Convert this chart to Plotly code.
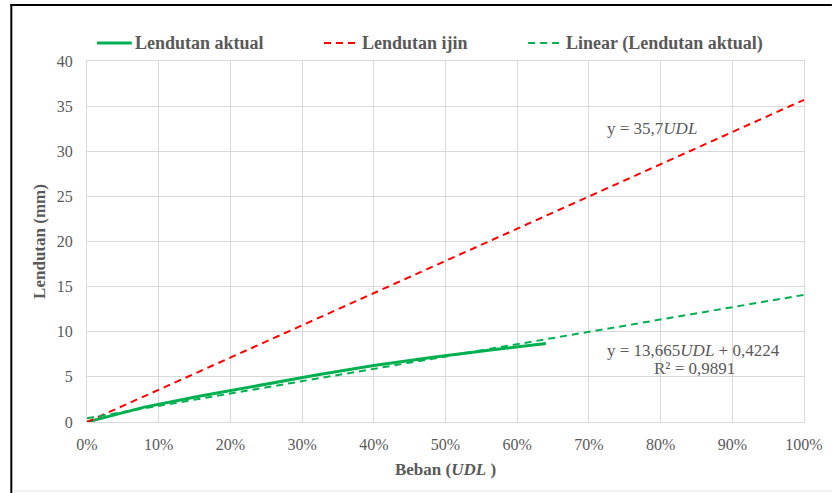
import plotly.graph_objects as go

# Data
beban_aktual = [0.0, 0.08, 0.16, 0.24, 0.32, 0.40, 0.48, 0.56, 0.64]
lendutan_aktual = [0.0, 1.65, 2.9, 4.05, 5.2, 6.25, 7.15, 7.95, 8.7]
beban_ijin = [0.0, 1.0]
lendutan_ijin = [0.0, 35.7]
beban_linear = [0.0, 1.0]
lendutan_linear = [0.4224, 14.0874]

x_ticks = [0, 0.1, 0.2, 0.3, 0.4, 0.5, 0.6, 0.7, 0.8, 0.9, 1.0]
x_ticklabels = ["0%", "10%", "20%", "30%", "40%", "50%", "60%", "70%", "80%", "90%", "100%"]
y_ticks = [0, 5, 10, 15, 20, 25, 30, 35, 40]
legend_names = ["Lendutan aktual", "Lendutan ijin", "Linear (Lendutan aktual)"]

FONT = "Liberation Serif"
GRAY = "#595959"
GREEN = "#00B050"
RED = "#FF0000"

fig = go.Figure()
fig.add_trace(go.Scatter(x=beban_aktual, y=lendutan_aktual, mode="lines",
                         name=legend_names[0], line=dict(color=GREEN, width=3)))
fig.add_trace(go.Scatter(x=beban_ijin, y=lendutan_ijin, mode="lines",
                         name=legend_names[1], line=dict(color=RED, width=2, dash="7px,5px")))
fig.add_trace(go.Scatter(x=beban_linear, y=lendutan_linear, mode="lines",
                         name=legend_names[2], line=dict(color=GREEN, width=2, dash="7px,5px")))

W, H = 835, 493
L, R, T, B = 87, 28, 61, 71
pw, ph = W - L - R, H - T - B

def px(xp):
    return (xp - L) / pw

def py(yp):
    return (H - B - yp) / ph

fig.update_layout(
    width=W, height=H,
    margin=dict(l=L, r=R, t=T, b=B, pad=0),
    paper_bgcolor="white", plot_bgcolor="white",
    font=dict(family=FONT, size=16, color=GRAY),
    showlegend=False,
    xaxis=dict(range=[0, 1], tickvals=x_ticks, ticktext=x_ticklabels,
               showgrid=True, gridcolor="#d9d9d9", gridwidth=1,
               zeroline=False, showline=True, linecolor="#d9d9d9", linewidth=1, mirror=True,
               ticks="", ticklabelstandoff=8, tickfont=dict(family=FONT, size=16, color=GRAY),
               title=dict(text="<b>Beban (<i>UDL</i> )</b>", font=dict(family=FONT, size=17, color=GRAY),
                          standoff=10)),
    yaxis=dict(range=[0, 40], tickvals=y_ticks,
               showgrid=True, gridcolor="#d9d9d9", gridwidth=1,
               zeroline=False, showline=True, linecolor="#d9d9d9", linewidth=1, mirror=True,
               ticks="", ticklabelstandoff=10, tickfont=dict(family=FONT, size=16, color=GRAY),
               title=dict(text="<b>Lendutan (mm)</b>", font=dict(family=FONT, size=17, color=GRAY),
                          standoff=6)),
)

# manual legend (line samples + labels)
leg_items = [
    (97, 132, GREEN, 3, "solid"),
    (325, 360, RED, 2, "7px,5px"),
    (530, 565, GREEN, 2, "7px,5px"),
]
for (x0, x1, col, w, dash), name in zip(leg_items, legend_names):
    fig.add_shape(type="line", xref="paper", yref="paper", x0=px(x0), x1=px(x1),
                  y0=py(43), y1=py(43), line=dict(color=col, width=w, dash=dash))
    fig.add_annotation(text="<b>" + name + "</b>", xref="paper", yref="paper",
                       x=px(x1 + 1), y=py(43), xanchor="left", yanchor="middle",
                       showarrow=False, font=dict(family=FONT, size=18, color=GRAY))

fig.add_annotation(text="y = 35,7<i>UDL</i>", xref="paper", yref="paper",
                   x=px(607), y=py(128), xanchor="left", yanchor="middle",
                   showarrow=False, font=dict(family=FONT, size=17, color=GRAY))
fig.add_annotation(text="y = 13,665<i>UDL</i> + 0,4224", xref="paper", yref="paper",
                   x=px(607), y=py(350), xanchor="left", yanchor="middle",
                   showarrow=False, font=dict(family=FONT, size=17, color=GRAY))
fig.add_annotation(text="R² = 0,9891", xref="paper", yref="paper",
                   x=px(654), y=py(368), xanchor="left", yanchor="middle",
                   showarrow=False, font=dict(family=FONT, size=17, color=GRAY))

# outer chart frame (black, top and left visible)
fig.add_shape(type="line", xref="paper", yref="paper", x0=px(10), x1=px(835), y0=py(5), y1=py(5),
              line=dict(color="black", width=2))
fig.add_shape(type="line", xref="paper", yref="paper", x0=px(11), x1=px(11), y0=py(4), y1=py(493),
              line=dict(color="black", width=2))
fig.add_shape(type="line", xref="paper", yref="paper", x0=px(12), x1=px(835), y0=py(491), y1=py(491),
              line=dict(color="#e6e6e6", width=1))

fig.write_html("out.html", config={"displayModeBar": False},
               post_script="document.body.style.margin='0';")
with open("out.html", "r", encoding="utf-8") as f:
    html = f.read()
html = html.replace("<head>", "<head><style>html,body{margin:0;padding:0;overflow:hidden;}</style>", 1)
with open("out.html", "w", encoding="utf-8") as f:
    f.write(html)
